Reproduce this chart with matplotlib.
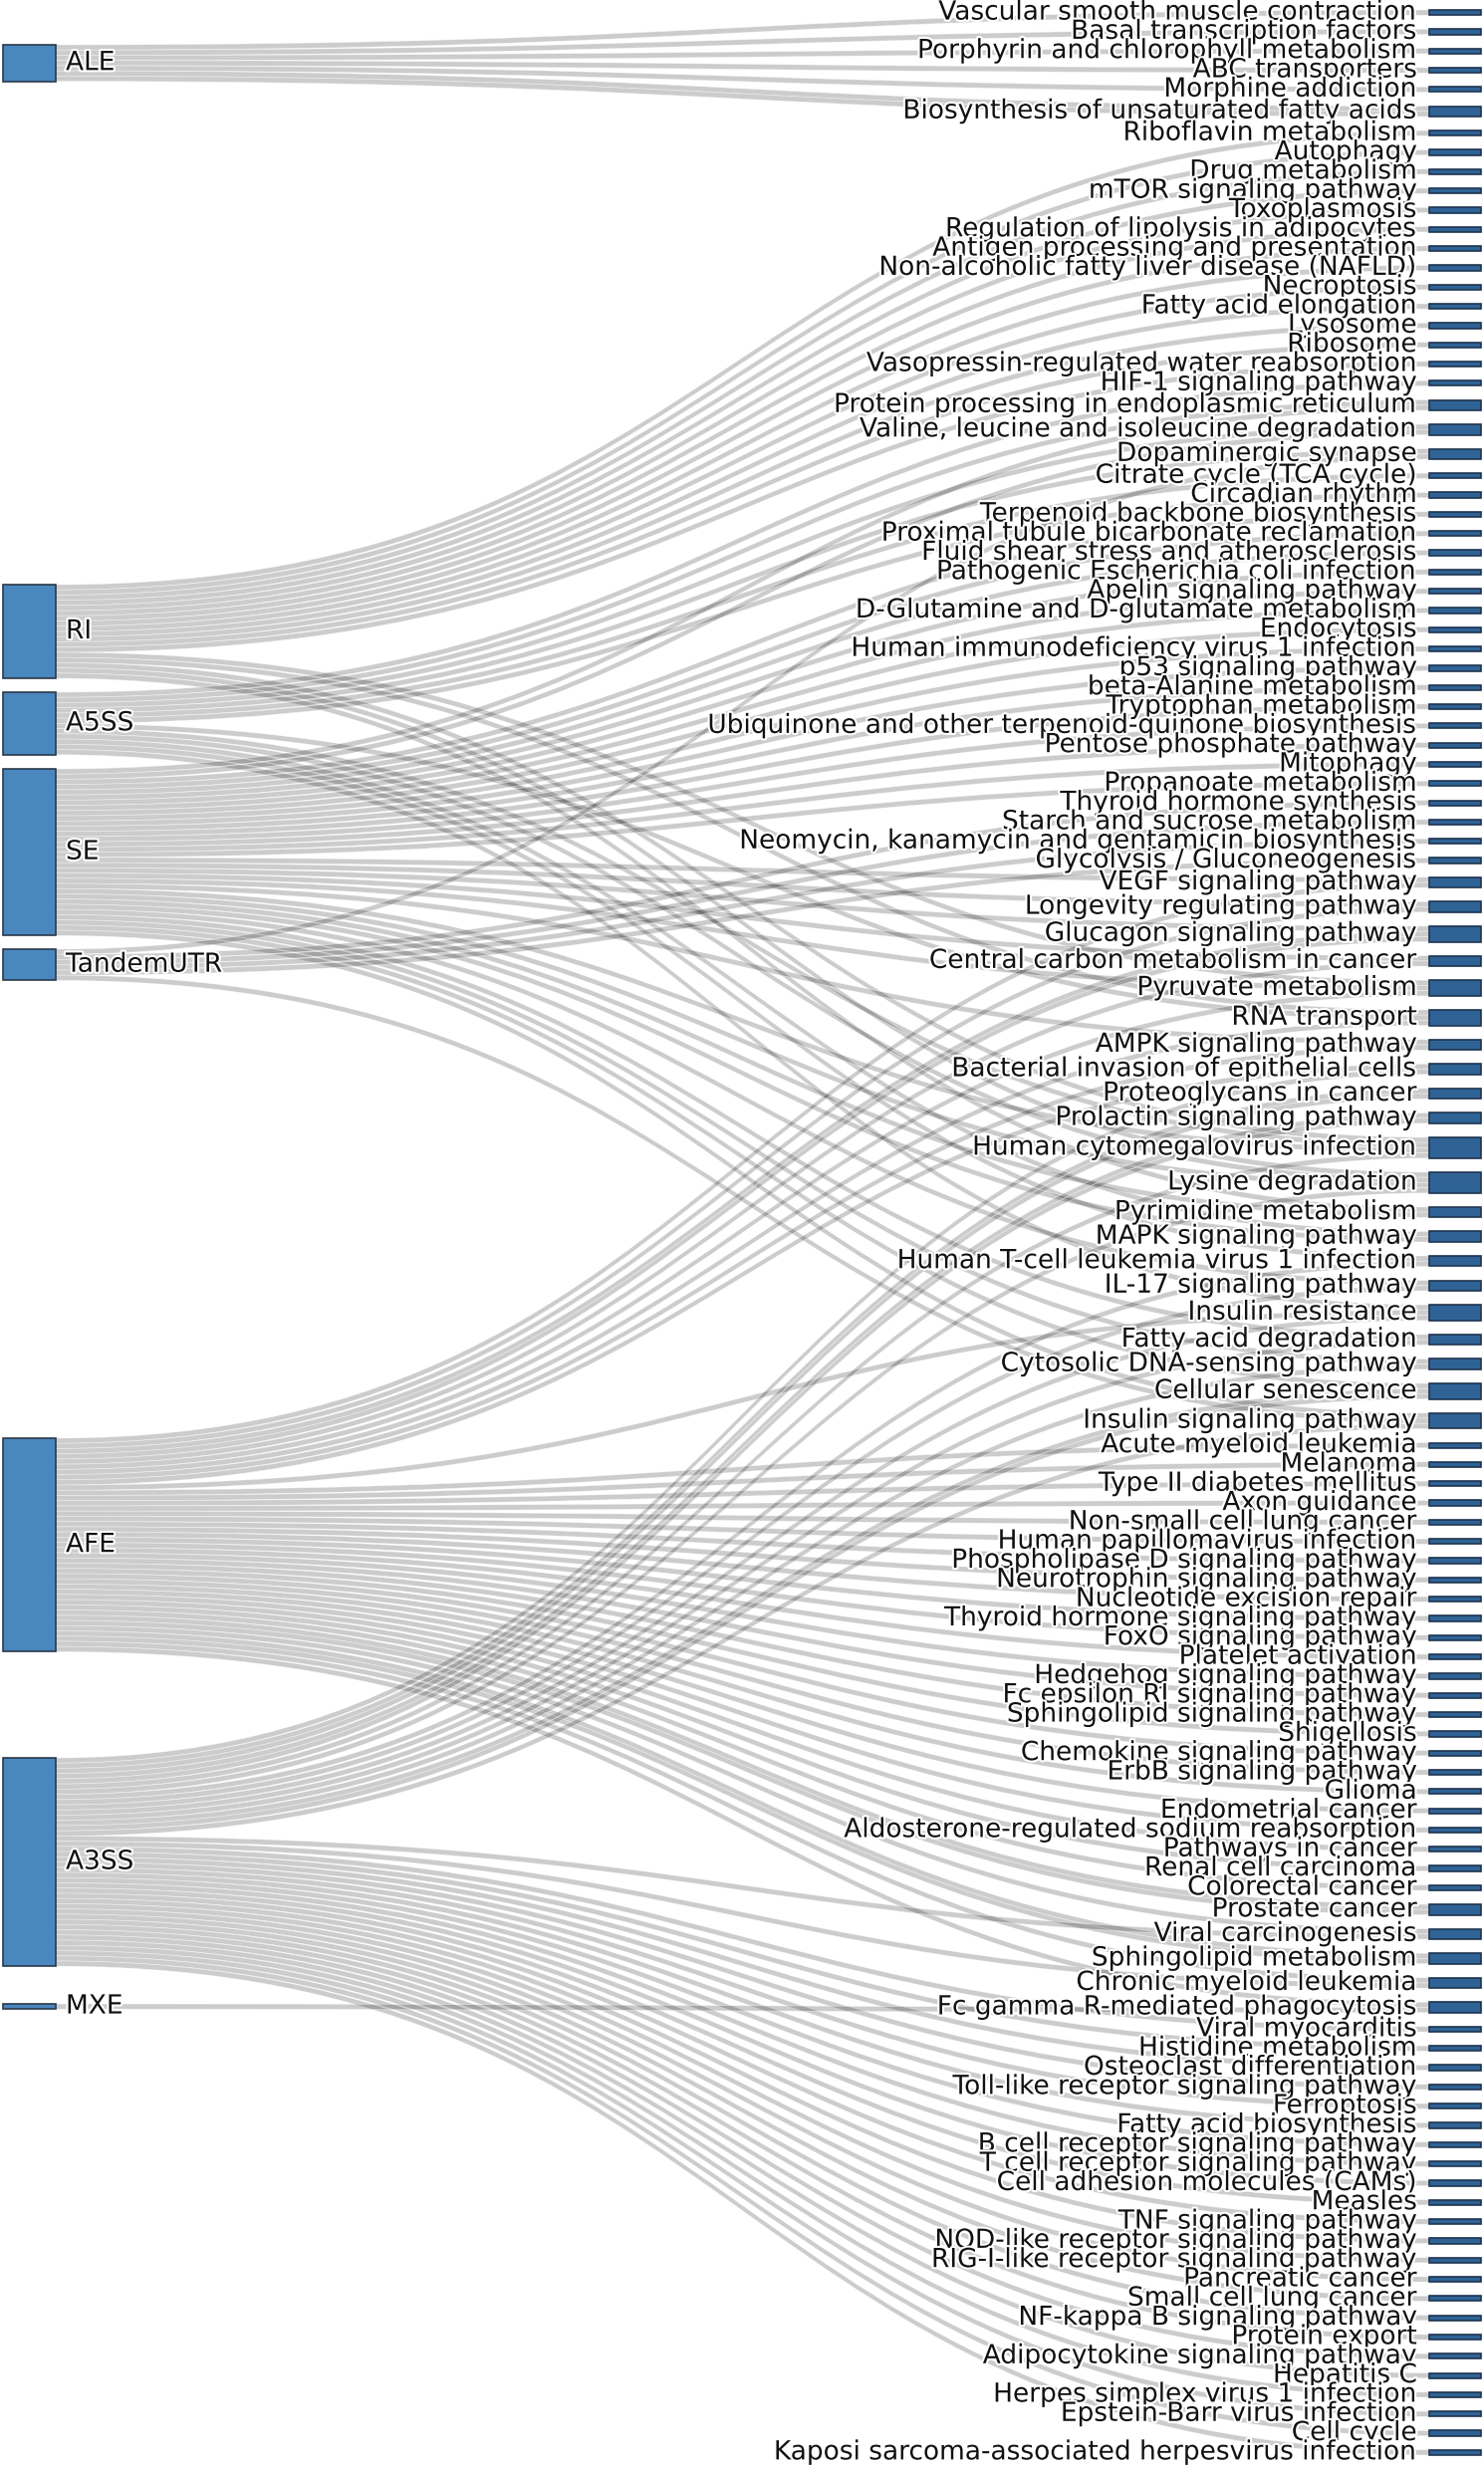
import matplotlib
matplotlib.use("Agg")
import matplotlib.pyplot as plt
import matplotlib.patheffects as pe
from matplotlib.path import Path
from matplotlib.patches import PathPatch, Rectangle

## Splicing event types (left column)
sources = ["ALE", "RI", "A5SS", "SE", "TandemUTR", "AFE", "A3SS", "MXE"]

## KEGG pathways (right column), top to bottom
pathways = [
    "Vascular smooth muscle contraction", "Basal transcription factors",
    "Porphyrin and chlorophyll metabolism", "ABC transporters", "Morphine addiction",
    "Biosynthesis of unsaturated fatty acids", "Riboflavin metabolism", "Autophagy",
    "Drug metabolism", "mTOR signaling pathway", "Toxoplasmosis",
    "Regulation of lipolysis in adipocytes", "Antigen processing and presentation",
    "Non-alcoholic fatty liver disease (NAFLD)", "Necroptosis", "Fatty acid elongation",
    "Lysosome", "Ribosome", "Vasopressin-regulated water reabsorption",
    "HIF-1 signaling pathway", "Protein processing in endoplasmic reticulum",
    "Valine, leucine and isoleucine degradation", "Dopaminergic synapse",
    "Citrate cycle (TCA cycle)", "Circadian rhythm", "Terpenoid backbone biosynthesis",
    "Proximal tubule bicarbonate reclamation", "Fluid shear stress and atherosclerosis",
    "Pathogenic Escherichia coli infection", "Apelin signaling pathway",
    "D-Glutamine and D-glutamate metabolism", "Endocytosis",
    "Human immunodeficiency virus 1 infection", "p53 signaling pathway",
    "beta-Alanine metabolism", "Tryptophan metabolism",
    "Ubiquinone and other terpenoid-quinone biosynthesis", "Pentose phosphate pathway",
    "Mitophagy", "Propanoate metabolism", "Thyroid hormone synthesis",
    "Starch and sucrose metabolism", "Neomycin, kanamycin and gentamicin biosynthesis",
    "Glycolysis / Gluconeogenesis", "VEGF signaling pathway",
    "Longevity regulating pathway", "Glucagon signaling pathway",
    "Central carbon metabolism in cancer", "Pyruvate metabolism", "RNA transport",
    "AMPK signaling pathway", "Bacterial invasion of epithelial cells",
    "Proteoglycans in cancer", "Prolactin signaling pathway",
    "Human cytomegalovirus infection", "Lysine degradation", "Pyrimidine metabolism",
    "MAPK signaling pathway", "Human T-cell leukemia virus 1 infection",
    "IL-17 signaling pathway", "Insulin resistance", "Fatty acid degradation",
    "Cytosolic DNA-sensing pathway", "Cellular senescence", "Insulin signaling pathway",
    "Acute myeloid leukemia", "Melanoma", "Type II diabetes mellitus", "Axon guidance",
    "Non-small cell lung cancer", "Human papillomavirus infection",
    "Phospholipase D signaling pathway", "Neurotrophin signaling pathway",
    "Nucleotide excision repair", "Thyroid hormone signaling pathway",
    "FoxO signaling pathway", "Platelet activation", "Hedgehog signaling pathway",
    "Fc epsilon RI signaling pathway", "Sphingolipid signaling pathway", "Shigellosis",
    "Chemokine signaling pathway", "ErbB signaling pathway", "Glioma",
    "Endometrial cancer", "Aldosterone-regulated sodium reabsorption",
    "Pathways in cancer", "Renal cell carcinoma", "Colorectal cancer",
    "Prostate cancer", "Viral carcinogenesis", "Sphingolipid metabolism",
    "Chronic myeloid leukemia", "Fc gamma R-mediated phagocytosis", "Viral myocarditis",
    "Histidine metabolism", "Osteoclast differentiation",
    "Toll-like receptor signaling pathway", "Ferroptosis", "Fatty acid biosynthesis",
    "B cell receptor signaling pathway", "T cell receptor signaling pathway",
    "Cell adhesion molecules (CAMs)", "Measles", "TNF signaling pathway",
    "NOD-like receptor signaling pathway", "RIG-I-like receptor signaling pathway",
    "Pancreatic cancer", "Small cell lung cancer", "NF-kappa B signaling pathway",
    "Protein export", "Adipocytokine signaling pathway", "Hepatitis C",
    "Herpes simplex virus 1 infection", "Epstein-Barr virus infection", "Cell cycle",
    "Kaposi sarcoma-associated herpesvirus infection",
]

## links, one unit each: pathway row numbers (1 = top) hit by each event type
ale_links = [1, 2, 3, 4, 5, 6, 6]
ri_links = [7, 8, 9, 10, 11, 12, 13, 14, 15, 16, 17, 18, 19, 49, 50, 55, 56, 57]
a5ss_links = [20, 21, 22, 23, 24, 25, 50, 55, 56, 58, 59, 61]
se_links = [21, 22, 26, 27, 28, 29, 30, 31, 32, 33, 34, 35, 36, 37, 38, 39, 40,
            45, 46, 47, 48, 49, 51, 55, 56, 57, 58, 60, 62, 63, 64, 65]
tandem_links = [23, 41, 42, 43, 44, 65]
afe_links = [45, 46, 47, 47, 48, 49, 50, 51, 52, 61,
             66, 67, 68, 69, 70, 71, 72, 73, 74, 75, 76, 77, 78, 79, 80, 81, 82,
             83, 84, 85, 86, 87, 88, 89, 90, 90, 91, 92, 92, 93, 94]
a3ss_links = [52, 53, 53, 54, 54, 55, 56, 59, 60, 61, 62, 63, 64, 64, 65, 91, 93,
              95, 96, 97, 98, 99, 100, 101, 102, 103, 104, 105, 106, 107, 108, 109,
              110, 111, 112, 113, 114, 115, 116, 117]
mxe_links = [94]

## Layout (pixels)
W, H = 1490, 2480
UNIT = 5.23
LEFT_X = (3, 56)
RIGHT_X = (1435, 1487)
left_top = [45, 587, 695, 772, 953, 1444, 1765, 2012]
RIGHT_SPAN = (10, 2465)
FONT = 19


def band(x0, ya, x1, yb, w):
    xm = (x0 + x1) / 2
    verts = [(x0, ya), (xm, ya), (xm, yb), (x1, yb),
             (x1, yb + w), (xm, yb + w), (xm, ya + w), (x0, ya + w), (x0, ya)]
    codes = [Path.MOVETO, Path.CURVE4, Path.CURVE4, Path.CURVE4,
             Path.LINETO, Path.CURVE4, Path.CURVE4, Path.CURVE4, Path.CLOSEPOLY]
    return Path(verts, codes)


def main():
    all_lists = [ale_links, ri_links, a5ss_links, se_links, tandem_links,
                 afe_links, a3ss_links, mxe_links]
    links = [(si, t - 1) for si, lst in enumerate(all_lists) for t in lst]

    n_right = len(pathways)
    right_size = [0] * n_right
    for s, t in links:
        right_size[t] += 1
    left_size = [len(l) for l in all_lists]

    ## Right node positions, evenly padded
    total = sum(right_size) * UNIT
    pad = (RIGHT_SPAN[1] - RIGHT_SPAN[0] - total) / (n_right - 1)
    right_top = []
    y = RIGHT_SPAN[0]
    for sz in right_size:
        right_top.append(y)
        y += sz * UNIT + pad
    right_mid = [right_top[i] + right_size[i] * UNIT / 2 for i in range(n_right)]
    left_mid = [left_top[i] + left_size[i] * UNIT / 2 for i in range(len(sources))]

    ## Stack links at both ends
    src_y = {}
    for si in range(len(sources)):
        idx = [k for k, (s, t) in enumerate(links) if s == si]
        idx.sort(key=lambda k: right_mid[links[k][1]])
        y = left_top[si]
        for k in idx:
            src_y[k] = y
            y += UNIT
    tgt_y = {}
    for ti in range(n_right):
        idx = [k for k, (s, t) in enumerate(links) if t == ti]
        idx.sort(key=lambda k: left_mid[links[k][0]])
        y = right_top[ti]
        for k in idx:
            tgt_y[k] = y
            y += UNIT

    f = plt.figure(figsize=(W / 100, H / 100), dpi=100)
    ax = f.add_axes([0, 0, 1, 1])
    ax.set_xlim(0, W)
    ax.set_ylim(H, 0)
    ax.axis("off")

    ## Links
    for k in range(len(links)):
        p = band(LEFT_X[1], src_y[k], RIGHT_X[0], tgt_y[k], UNIT)
        ax.add_patch(PathPatch(p, facecolor=(0, 0, 0, 0.2),
                               edgecolor=(1, 1, 1, 0.5), linewidth=0.5, zorder=1))

    halo = [pe.withStroke(linewidth=3, foreground="white")]

    ## Left nodes
    for i, name in enumerate(sources):
        h = left_size[i] * UNIT
        ax.add_patch(Rectangle((LEFT_X[0], left_top[i]), LEFT_X[1] - LEFT_X[0], h,
                               facecolor="#4a87be", edgecolor="#2b3a4a",
                               linewidth=1.2, zorder=3))
        ax.text(LEFT_X[1] + 10, left_mid[i], name, ha="left", va="center",
                fontsize=FONT, color="#111111", path_effects=halo, zorder=4)

    ## Right nodes
    for i, name in enumerate(pathways):
        h = right_size[i] * UNIT
        ax.add_patch(Rectangle((RIGHT_X[0], right_top[i]), RIGHT_X[1] - RIGHT_X[0], h,
                               facecolor="#2f6396", edgecolor="#1f3550",
                               linewidth=1.2, zorder=3))
        ax.text(RIGHT_X[0] - 12, right_mid[i], name, ha="right", va="center",
                fontsize=FONT, color="#111111", path_effects=halo, zorder=4)

    f.savefig("out.png", dpi=100, facecolor="white")
    return 0


if __name__ == "__main__":
    main()
